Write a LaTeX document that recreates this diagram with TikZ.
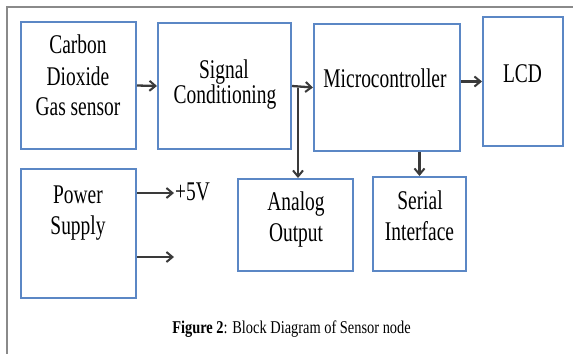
\documentclass[tikz,border=0pt]{standalone}
\usepackage{fontspec}
\setmainfont{Liberation Serif}[FakeStretch=0.72]
\newfontfamily\capfont{Liberation Serif}[FakeStretch=0.8]
\usetikzlibrary{arrows.meta}
\definecolor{boxblue}{HTML}{5B87C5}
\definecolor{arrgray}{HTML}{3A3A3A}
\definecolor{framegray}{HTML}{8A8A8A}
\begin{document}
\begin{tikzpicture}[x=1pt,y=-1pt,
  blk/.style={draw=boxblue,line width=2pt,inner sep=0pt},
  lbl/.style={anchor=base,inner sep=0pt,font=\fontsize{27}{31}\selectfont},
  arr/.style={draw=arrgray,line width=2.3pt,-{Straight Barb[length=6pt,width=10pt,line width=2pt]}},
  frm/.style={draw=framegray,line width=1.4pt}]
\useasboundingbox (0,0) rectangle (573,354);
\fill[white] (0,0) rectangle (573,354);
% frame
\coordinate (fa) at (573,7);
\coordinate (fb) at (7,7);
\coordinate (fc) at (7,354);
\draw[frm] (fa) -- (fb) -- (fc);
% boxes
\node[blk,minimum width=115pt,minimum height=127pt] (b1) at (78.5,85.5) {};
\node[blk,minimum width=133pt,minimum height=126pt] (b2) at (224.5,86) {};
\node[blk,minimum width=146pt,minimum height=127pt] (b3) at (387,87.5) {};
\node[blk,minimum width=80pt,minimum height=129pt] (b4) at (523,81.5) {};
\node[blk,minimum width=115pt,minimum height=129pt] (b5) at (78.5,233.5) {};
\node[blk,minimum width=115pt,minimum height=92pt] (b6) at (295.5,225) {};
\node[blk,minimum width=93pt,minimum height=94pt] (b7) at (419.5,224) {};
% labels
\node[lbl] (t1a) at (78,53) {Carbon};
\node[lbl] (t1b) at (78,85) {Dioxide};
\node[lbl] (t1c) at (78,115) {Gas sensor};
\node[lbl] (t2a) at (224,78) {Signal};
\node[lbl] (t2b) at (225,103) {Conditioning};
\node[lbl] (t3) at (385,87) {Microcontroller};
\node[lbl] (t4) at (522.5,82) {LCD};
\node[lbl] (t5a) at (78,203) {Power};
\node[lbl] (t5b) at (78,234) {Supply};
\node[lbl] (t6a) at (296,210) {Analog};
\node[lbl] (t6b) at (296,241) {Output};
\node[lbl] (t7a) at (420,209) {Serial};
\node[lbl] (t7b) at (419.5,240) {Interface};
% connectors
\draw[arr] (b1.east) -- (b2.west);
\draw[arr] (b2.east) -- (b3.west);
\coordinate (j) at (298,87.5);
\draw[arr] (j) -- (j |- b6.north);
\draw[arr] (b3.east |- b4.west) -- (b4.west);
\draw[arr] (b7.north |- b3.south) -- (b7.north);
\coordinate (p1) at (174,193);
\coordinate (p2) at (174,257);
\draw[arr] (b5.east |- p1) -- (p1);
\draw[arr] (b5.east |- p2) -- (p2);
\node[lbl,anchor=base west] (v5) at (175,200) {+5V};
% caption
\node[anchor=base,inner sep=0pt,font=\capfont\fontsize{18}{20}\selectfont] (cap) at (291.5,333) {\textbf{Figure 2}: Block Diagram of Sensor node};
\end{tikzpicture}
\end{document}
